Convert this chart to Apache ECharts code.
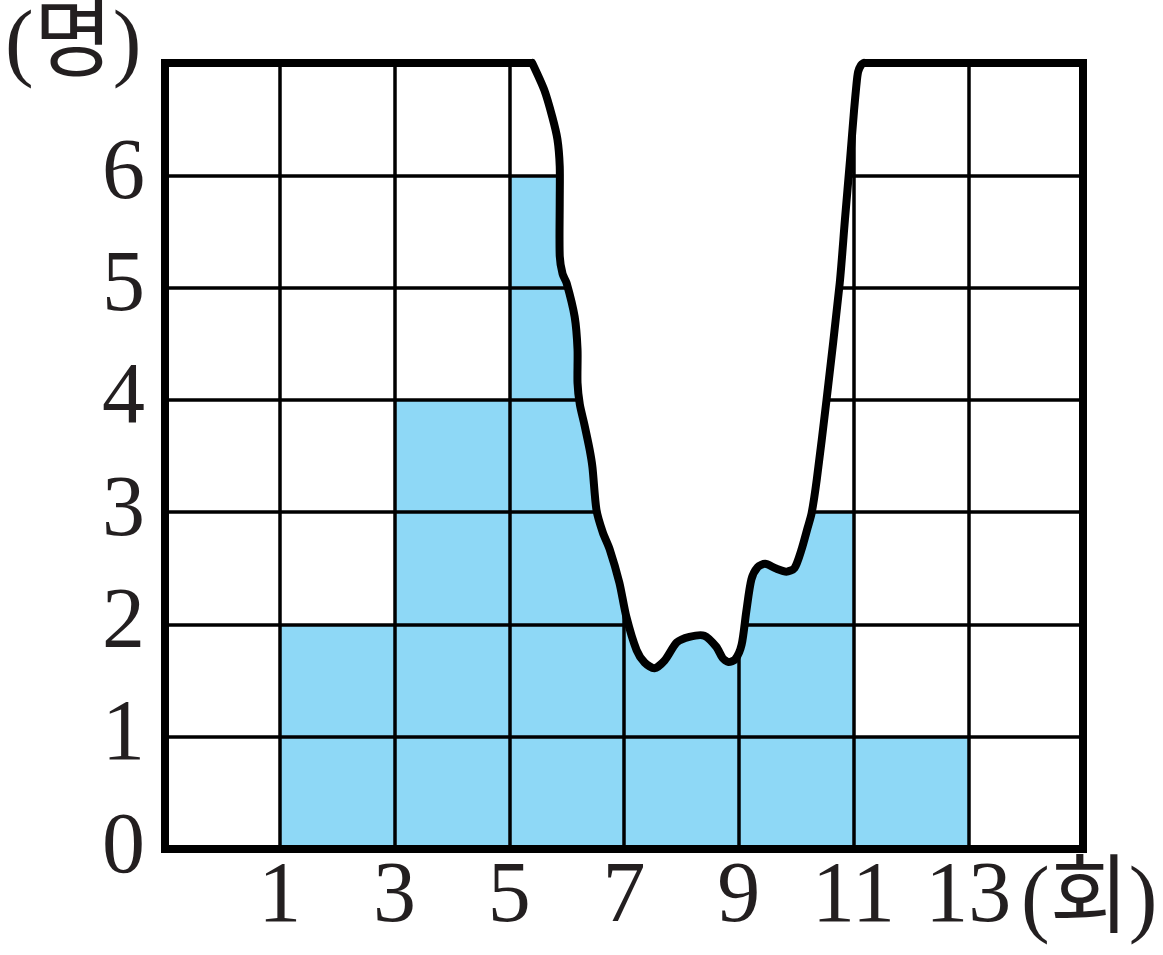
<!DOCTYPE html>
<html><head><meta charset="utf-8">
<script src="https://cdn.jsdelivr.net/npm/echarts@6/dist/echarts.min.js"></script>
<style>html,body{margin:0;padding:0;background:#fff}#c{width:1163px;height:955px}</style>
</head><body><div id="c"></div>
<script>
// ---- data ----
const classStarts = [1, 3, 5, 7, 9, 11];
const classWidth = 2;
const counts = [2, 4, 6, 5, 3, 1];
const xTickValues = [1, 3, 5, 7, 9, 11, 13];
const yTickValues = [0, 1, 2, 3, 4, 5, 6];
const xUnit = '(회)';
const yUnit = '(명)';
// torn-paper outline (data coordinates)
const tearX = [5.40, 5.61, 5.75, 5.84, 5.88, 5.88, 5.88, 5.93, 6.00, 6.14, 6.19, 6.19, 6.23, 6.31, 6.40, 6.45, 6.52, 6.63, 6.75, 6.92, 7.04, 7.22, 7.36, 7.53, 7.71, 7.92, 8.14, 8.40, 8.61, 8.72, 8.82, 8.94, 9.05, 9.13, 9.22, 9.33, 9.46, 9.64, 9.83, 9.97, 10.09, 10.20, 10.27, 10.36, 10.53, 10.76, 10.85, 10.94, 11.01, 11.05, 11.08, 11.13, 11.18];
const tearY = [7.00, 6.76, 6.52, 6.32, 6.08, 5.78, 5.28, 5.12, 5.04, 4.74, 4.45, 4.15, 3.96, 3.78, 3.56, 3.40, 3.02, 2.82, 2.67, 2.37, 2.07, 1.77, 1.66, 1.61, 1.68, 1.84, 1.89, 1.90, 1.80, 1.70, 1.665, 1.69, 1.82, 2.11, 2.40, 2.51, 2.54, 2.50, 2.47, 2.50, 2.66, 2.86, 2.99, 3.29, 4.00, 5.04, 5.60, 6.14, 6.58, 6.80, 6.92, 6.98, 7.00];
const xMin = -1, xMax = 15, yMin = 0, yMax = 7;

// axis shift so that the axis min is a multiple of the tick interval
const X_SHIFT = 1;
const sx = v => v + X_SHIFT;

const BLUE = '#8ED8F6';
const serif = '"Liberation Serif", "Noto Sans CJK KR", serif';
const TXT = '#231f20';

const chart = echarts.init(document.getElementById('c'), null, {renderer: 'canvas'});

const barData = classStarts.map((s, i) => [s, s + classWidth, counts[i]]);

const commonX = {type: 'value', min: sx(xMin), max: sx(xMax), interval: classWidth, z: 3};
const commonY = {type: 'value', min: yMin, max: yMax, interval: 1, z: 3};
const frameLine = {show: true, onZero: false, lineStyle: {color: '#000', width: 8, cap: 'square'}};
const gridLine = {show: true, lineStyle: {color: '#000', width: 3.5}};

chart.setOption({
  animation: false,
  backgroundColor: '#fff',
  grid: {left: 165, right: 80, top: 63, bottom: 106, containLabel: false},
  xAxis: [
    Object.assign({}, commonX, {
      position: 'bottom', axisLine: frameLine, axisTick: {show: false}, splitLine: gridLine,
      axisLabel: {
        show: true, margin: 6, color: TXT, fontSize: 86, fontFamily: serif,
        formatter: v => { const r = Math.round(v - X_SHIFT); return xTickValues.includes(r) ? String(r) : ''; }
      }
    }),
    Object.assign({}, commonX, {
      position: 'top', axisLine: frameLine, axisTick: {show: false}, axisLabel: {show: false}, splitLine: {show: false}
    })
  ],
  yAxis: [
    Object.assign({}, commonY, {
      position: 'left', axisLine: frameLine, axisTick: {show: false}, splitLine: gridLine,
      axisLabel: {
        show: true, margin: 20, color: TXT, fontSize: 86, fontFamily: serif,
        formatter: v => yTickValues.includes(v) ? String(v) : ''
      }
    }),
    Object.assign({}, commonY, {
      position: 'right', axisLine: frameLine, axisTick: {show: false}, axisLabel: {show: false}, splitLine: {show: false}
    })
  ],
  graphic: [
    {type: 'text', left: 5, top: 4, z: 10,
      style: {text: yUnit, fontSize: 86, fontFamily: serif, fill: TXT}},
    {type: 'text', left: 1021, top: 860, z: 10,
      style: {text: xUnit, fontSize: 86, fontFamily: serif, fill: TXT}}
  ],
  series: [
    {
      type: 'custom', name: 'bars', z: 2, xAxisIndex: 0, yAxisIndex: 0,
      data: barData,
      renderItem: (params, api) => {
        const p0 = api.coord([sx(api.value(0)), api.value(2)]);
        const p1 = api.coord([sx(api.value(1)), 0]);
        return {type: 'rect', shape: {x: p0[0], y: p0[1], width: p1[0] - p0[0], height: p1[1] - p0[1]},
          style: {fill: BLUE, stroke: null}};
      }
    },
    {
      type: 'custom', name: 'tear', z: 5, xAxisIndex: 0, yAxisIndex: 0, clip: false,
      data: [0],
      renderItem: (params, api) => {
        const pts = tearX.map((x, i) => api.coord([sx(x), tearY[i]]));
        const first = pts[0], last = pts[pts.length - 1];
        const fillPts = pts.concat([[last[0], last[1] - 8], [first[0], first[1] - 8]]);
        return {
          type: 'group',
          children: [
            {type: 'polygon', shape: {points: fillPts}, style: {fill: '#fff', stroke: null}},
            {type: 'polyline', shape: {points: pts, smooth: 0.25},
              style: {fill: null, stroke: '#000', lineWidth: 8, lineJoin: 'round', lineCap: 'round'}}
          ]
        };
      }
    }
  ]
});
</script>
</body></html>
